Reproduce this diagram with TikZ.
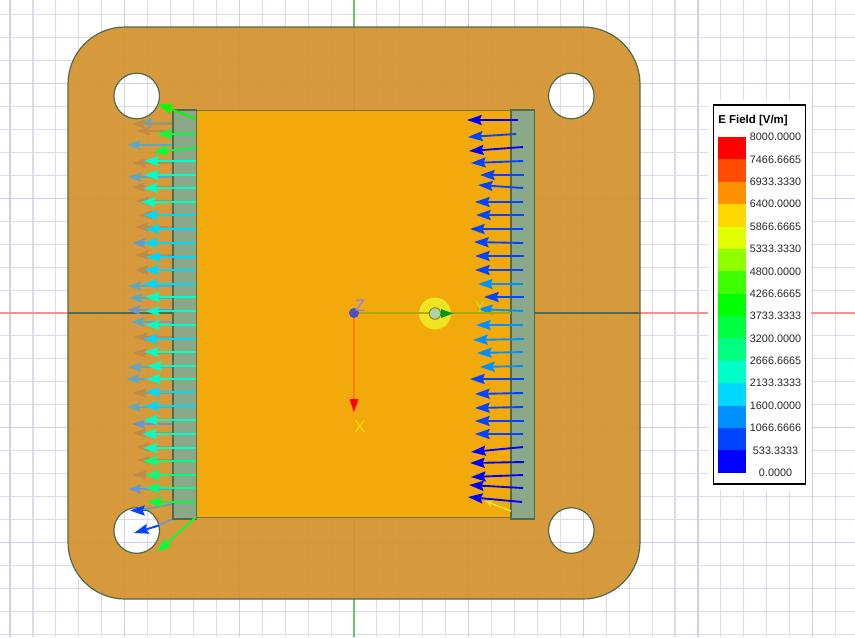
\documentclass[tikz,border=0pt]{standalone}
\usepackage{fontspec}
\setmainfont{Liberation Sans}
\usetikzlibrary{arrows.meta,positioning,calc}

\definecolor{plateC}{HTML}{D49532}
\definecolor{edgeC}{HTML}{4F6B4F}
\definecolor{patchC}{HTML}{F2A90C}
\definecolor{stripC}{HTML}{8BA888}
\definecolor{gridC}{HTML}{DEDAEE}
\definecolor{gridB}{HTML}{D2CEE8}
\definecolor{fieldA}{HTML}{0000FF}
\definecolor{fieldB}{HTML}{0044FF}
\definecolor{fieldC}{HTML}{0090FF}
\definecolor{fieldD}{HTML}{00D8FF}
\definecolor{fieldE}{HTML}{00FFC8}
\definecolor{fieldF}{HTML}{00FF80}
\definecolor{fieldG}{HTML}{00FF40}
\definecolor{fieldH}{HTML}{00FF00}
\definecolor{ghostB}{HTML}{5FA8C0}
\definecolor{ghostS}{HTML}{6A98C8}
\definecolor{ghostO}{HTML}{C08A48}
\definecolor{cellA}{HTML}{FF0000}
\definecolor{cellB}{HTML}{FF4C00}
\definecolor{cellC}{HTML}{FF9000}
\definecolor{cellD}{HTML}{FFD800}
\definecolor{cellE}{HTML}{E0FF00}
\definecolor{cellF}{HTML}{90FF00}
\definecolor{cellG}{HTML}{40FF00}

\tikzset{
  fieldarrow/.style={line width=1.4pt,-{Stealth[length=11pt,width=7.5pt,inset=1.5pt]}},
  ghostarrow/.style={line width=1.2pt,-{Stealth[length=10pt,width=7pt,inset=1.5pt]}},
  axislabel/.style={font=\fontsize{12.5}{12.5}\selectfont,inner sep=0pt},
  legendnum/.style={font=\fontsize{8.1}{9}\selectfont,inner sep=0pt,text=black!85}
}

\begin{document}
\begin{tikzpicture}[x=.75pt,y=-.75pt]
  \useasboundingbox (0,0) rectangle (855,637);
  \fill[white] (0,0) rectangle (855,637);

  % grid
  \foreach \k in {-15,...,22} {
    \pgfmathsetmacro{\gx}{354+22.93*\k}
    \draw[gridC,line width=.8pt] (\gx,0) -- (\gx,637);
  }
  \foreach \k in {-13,...,14} {
    \pgfmathsetmacro{\gy}{313+22.93*\k}
    \draw[gridC,line width=.8pt] (0,\gy) -- (855,\gy);
  }
  \foreach \k in {-3,...,4} {
    \pgfmathsetmacro{\gx}{354+114.65*\k}
    \draw[gridB,line width=.85pt] (\gx,0) -- (\gx,637);
  }
  \foreach \k in {-2,...,2} {
    \pgfmathsetmacro{\gy}{313+114.65*\k}
    \draw[gridB,line width=.85pt] (0,\gy) -- (855,\gy);
  }
  \draw[red!45,line width=.8pt] (0,313) -- (855,313);
  \draw[green!45!gray!80,line width=.8pt] (354,0) -- (354,637);

  % plate with four holes
  \path[fill=plateC,fill opacity=.95,even odd rule,draw=edgeC,line width=.9pt,rounded corners=42.75pt]
    (68,27) rectangle (640,599)
    [sharp corners]
    (136.7,96) circle [radius=22.8] (571.3,96) circle [radius=22.8]
    (136.7,530.5) circle [radius=22.8] (571.3,530.5) circle [radius=22.8];
  \draw[edgeC,line width=.8pt] (68,313) -- (173,313) (534,313) -- (640,313);

  % arrows seen through the plate
  \foreach \tipx/\tipy/\col in {
    139/123/ghostB, 132/124/ghostO, 137/131/ghostO, 127/145/ghostB,
    133/163/ghostO, 128/177/ghostB, 132/187/ghostO, 136/201/ghostO,
    139/215/ghostO, 135/227/ghostO, 132/243/ghostS, 135/255/ghostO,
    135/270/ghostO, 128/286/ghostB, 129/298/ghostB, 127/310/ghostS,
    131/322/ghostB, 134/337/ghostO, 133/353/ghostO, 128/367/ghostB,
    126/379/ghostB, 133/393/ghostO, 127/407/ghostB, 132/424/ghostS,
    133/433/ghostO, 136/447/ghostO, 137/460/ghostO, 133/475/ghostO,
    128/489/ghostS}
    \draw[ghostarrow,\col] (172,\tipy) -- (\tipx,\tipy);
  \draw[ghostS,line width=1.2pt] (173,504) -- (140,510);
  \draw[ghostS,line width=1.2pt] (173,519) -- (154,527);
  % the same arrows where they cross the holes
  \draw[fieldarrow,fieldB] (146,510.5) -- (130,510.5);
  \draw[fieldarrow,fieldB] (159,525.5) -- (134,533);

  % patch and side strips
  \fill[patchC] (196,110) rectangle (511,517);
  \draw[olive!85!black,line width=.7pt] (196,110) -- (511,110) (196,517) -- (511,517);
  \draw[fill=stripC,draw=edgeC,line width=.9pt] (173,110) rectangle (196.5,519);
  \draw[fill=stripC,draw=edgeC,line width=.9pt] (511,110) rectangle (534.5,519);

  % left side arrows
  \foreach \taily/\tipx/\tipy/\col in {
    119/158/104/fieldH, 134/157/134/fieldG, 148/153/152/fieldG, 161/144/161/fieldE,
    175/144/175/fieldE, 188/143/188/fieldE, 202/141/202/fieldE, 215/143/215/fieldD,
    229/145/229/fieldD, 243/143/243/fieldD, 257/146/257/fieldD, 270/144/270/fieldD,
    284/143/284/fieldD, 297/145/297/fieldE, 311/145/311/fieldE, 325/145/325/fieldE,
    339/143/339/fieldD, 352/144/352/fieldE, 366/147/366/fieldE, 379/146/379/fieldE,
    392/145/392/fieldD, 406/144/406/fieldD, 420/143/420/fieldE, 434/142/434/fieldE,
    448/143/448/fieldE, 461/143/461/fieldF, 475/145/475/fieldF, 488/145/488/fieldF,
    502/147/502/fieldG}
    \draw[fieldarrow,\col] (196,\taily) -- (\tipx,\tipy);
  \draw[fieldarrow,fieldG] (196,517) -- (157,552);

  % right side arrows
  \foreach \tailx/\taily/\tipx/\tipy/\col in {
    518/120/467/120/fieldA, 516/134/468/137/fieldB, 523/147/469/151/fieldA, 523/161/471/163/fieldB,
    524/175/480/175/fieldB, 523/188/478/185/fieldB, 523/202/475/202/fieldB, 524/215/476/215/fieldB,
    523/229/470/229/fieldB, 523/243/474/242/fieldB, 524/256/475/256/fieldB, 523/270/475/270/fieldB,
    523/284/478/284/fieldC, 524/297/484/297/fieldB, 523/311/478/309/fieldC, 523/325/476/325/fieldC,
    524/339/473/340/fieldC, 523/352/477/353/fieldC, 523/366/480/367/fieldC, 524/379/470/379/fieldB,
    523/393/475/394/fieldB, 523/407/475/408/fieldB, 524/421/475/421/fieldB, 523/434/475/434/fieldB,
    523/447/471/452/fieldA, 524/462/470/463/fieldA, 523/475/471/477/fieldA, 523/488/469/485/fieldA,
    522/502/468/497/fieldA}
    \draw[fieldarrow,\col] (\tailx,\taily) -- (\tipx,\tipy);
  \draw[line width=1.2pt,yellow!85!gray,-{Stealth[length=6pt,width=5pt]}] (511,511) -- (485,501);

  % coordinate axes and port
  \fill[yellow!85!gray] (435,313.5) circle [radius=16];
  \draw[olive!70!yellow,line width=.9pt] (354,313) -- (511,313);
  \fill[green!60!black] (441,309) -- (453,313.5) -- (441,318) -- cycle;
  \draw[fill=green!25!gray!50!white,draw=olive,line width=.7pt] (435,313.5) circle [radius=5.8];
  \draw[orange,line width=1pt] (354,313) -- (354,400);
  \fill[red] (349.5,399) -- (358.5,399) -- (354,412) -- cycle;
  \fill[blue!55!gray!90!white] (354,313) circle [radius=5];
  \node[axislabel,text=blue!50!white] (zlabel) at (360,306) {Z};
  \node[axislabel,text=yellow!75!green] (ylabel) at (480,306.5) {Y};
  \node[axislabel,text=yellow!75!orange] (xlabel) at (360,426.5) {X};

  % legend
  \fill[white] (708,100) rectangle (811,490);
  \draw[black,fill=white,line width=.9pt] (713.3,105) rectangle (805.7,484);
  \node[anchor=west,inner sep=0pt,font=\bfseries\fontsize{8.6}{9}\selectfont] (legendtitle) at (718,120.5) {E Field [V/m]};
  \foreach \col [count=\i from 0] in {cellA,cellB,cellC,cellD,cellE,cellF,cellG,fieldH,fieldG,fieldF,fieldE,fieldD,fieldC,fieldB,fieldA}
    \fill[\col] (718,{137+22.38*\i}) rectangle (746,{137+22.38*(\i+1)});
  \foreach \val [count=\i from 0] in {8000.0000,7466.6665,6933.3330,6400.0000,5866.6665,5333.3330,4800.0000,4266.6665,3733.3333,3200.0000,2666.6665,2133.3333,1600.0000,1066.6666,533.3333,0.0000}
    \node[legendnum] (val\i) at (775.5,{137+22.38*\i}) {\val};
\end{tikzpicture}
\end{document}
